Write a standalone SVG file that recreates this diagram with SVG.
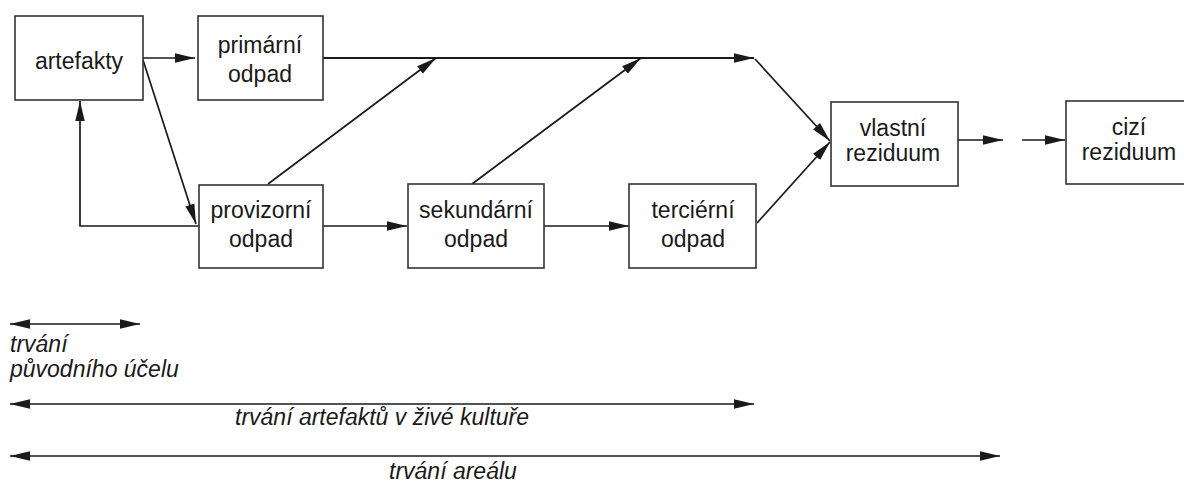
<svg xmlns="http://www.w3.org/2000/svg" width="1184" height="486" viewBox="0 0 1184 486">
<defs>
<marker id="ah" markerUnits="userSpaceOnUse" markerWidth="20" markerHeight="10" refX="20" refY="5" orient="auto-start-reverse" viewBox="0 0 20 10">
<path d="M0,0.3 L20,5 L0,9.7 Z" fill="#1a1a1a"/>
</marker>
</defs>
<style>
.box{fill:#fff;stroke:#333;stroke-width:1.6}
.lbl{font-family:"Liberation Sans",Arial,sans-serif;font-size:23px;fill:#1a1a1a;text-anchor:middle}
.note{font-family:"Liberation Sans",Arial,sans-serif;font-size:23px;font-style:italic;fill:#1a1a1a}
.c{fill:none;stroke:#1a1a1a;stroke-width:1.7;marker-end:url(#ah)}
.d{fill:none;stroke:#1a1a1a;stroke-width:1.5;marker-end:url(#ah);marker-start:url(#ah)}
</style>
<g id="connectors">
<line class="c" x1="143" y1="58" x2="195" y2="58"/>
<line class="c" x1="323" y1="58" x2="754" y2="58" style="stroke-width:2.2"/>
<line class="c" x1="755" y1="59" x2="830" y2="141"/>
<line class="c" x1="143" y1="60" x2="196" y2="224"/>
<polyline class="c" points="199,226 80,226 80,101"/>
<line class="c" x1="268" y1="184" x2="436" y2="58"/>
<line class="c" x1="472" y1="184" x2="641" y2="58"/>
<line class="c" x1="323" y1="226" x2="407" y2="226"/>
<line class="c" x1="544" y1="226" x2="629" y2="226"/>
<line class="c" x1="757" y1="223" x2="830" y2="142"/>
<line class="c" x1="958" y1="140" x2="1003" y2="140"/>
<line class="c" x1="1022" y1="140" x2="1065" y2="140"/>
<line class="d" x1="10" y1="324" x2="140" y2="324"/>
<line class="d" x1="10" y1="404" x2="754" y2="404"/>
<line class="d" x1="10" y1="456" x2="1000" y2="456"/>
</g>
<g id="artefakty">
<rect class="box" x="15" y="16" width="128" height="84"/>
<text class="lbl" x="79" y="69">artefakty</text>
</g>
<g id="primarni">
<rect class="box" x="198" y="16" width="125" height="84"/>
<text class="lbl" x="260" y="53">primární</text>
<text class="lbl" x="260" y="82">odpad</text>
</g>
<g id="provizorni">
<rect class="box" x="199" y="185" width="124" height="83"/>
<text class="lbl" x="261" y="218">provizorní</text>
<text class="lbl" x="261" y="247">odpad</text>
</g>
<g id="sekundarni">
<rect class="box" x="408" y="184" width="136" height="84"/>
<text class="lbl" x="476" y="218">sekundární</text>
<text class="lbl" x="476" y="247">odpad</text>
</g>
<g id="tercierni">
<rect class="box" x="629" y="184" width="127" height="84"/>
<text class="lbl" x="693" y="218">terciérní</text>
<text class="lbl" x="693" y="247">odpad</text>
</g>
<g id="vlastni">
<rect class="box" x="831" y="102" width="127" height="84"/>
<text class="lbl" x="893" y="136">vlastní</text>
<text class="lbl" x="893" y="161">reziduum</text>
</g>
<g id="cizi">
<rect class="box" x="1066" y="101" width="130" height="83"/>
<text class="lbl" x="1129" y="135">cizí</text>
<text class="lbl" x="1129" y="160">reziduum</text>
</g>
<g id="notes">
<text class="note" x="10" y="352">trvání</text>
<text class="note" x="10" y="377">původního účelu</text>
<text class="note" x="235" y="425">trvání artefaktů v živé kultuře</text>
<text class="note" x="389" y="479">trvání areálu</text>
</g>
</svg>
